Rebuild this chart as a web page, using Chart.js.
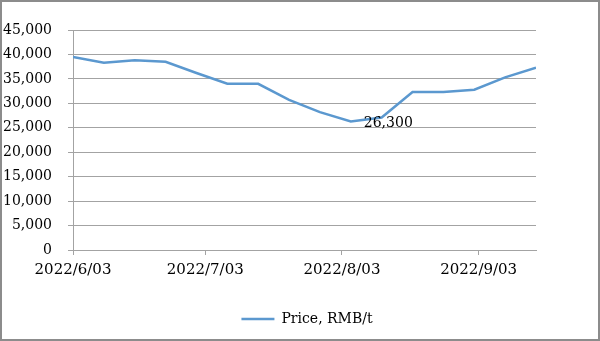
<!DOCTYPE html>
<html>
<head>
<meta charset="utf-8">
<script src="https://cdn.jsdelivr.net/npm/chart.js@4.4.0/dist/chart.umd.min.js"></script>
<style>
  html, body { margin: 0; padding: 0; background: #fff; }
  #wrap { width: 600px; height: 341px; position: relative; }
</style>
</head>
<body>
<div id="wrap"><canvas id="priceChart"></canvas></div>
<script>
// weekly observations
const dates = [
  "2022/6/03", "2022/6/10", "2022/6/17", "2022/6/24",
  "2022/7/01", "2022/7/08", "2022/7/15", "2022/7/22", "2022/7/29",
  "2022/8/05", "2022/8/12", "2022/8/19", "2022/8/26",
  "2022/9/02", "2022/9/09", "2022/9/16",
];
const prices = [
  39500, 38300, 38800, 38500,
  36200, 34000, 34000, 30700, 28200,
  26300, 27100, 32300, 32300,
  32800, 35300, 37300,
];
const seriesName = "Price, RMB/t";
const xTickDates = ["2022/6/03", "2022/7/03", "2022/8/03", "2022/9/03"];
const yTickLabels = ["0", "5,000", "10,000", "15,000", "20,000", "25,000", "30,000", "35,000", "40,000", "45,000"];
const labelIndex = 9; // min point gets a data label
const labelText = "26,300";

function dayOf(s) {
  const [y, m, d] = s.split("/").map(Number);
  return Date.UTC(y, m - 1, d) / 86400000;
}
const day0 = dayOf(dates[0]);
const points = dates.map((d, i) => ({ x: dayOf(d) - day0, y: prices[i] }));
const xTicks = xTickDates.map((d) => dayOf(d) - day0);

const lineColor = "#5b98cf";
const gridColor = "#a3a3a3";
const serif = "'DejaVu Serif', 'Liberation Serif', serif";

const pointLabel = {
  id: "pointLabel",
  afterDatasetsDraw(chart) {
    const pt = chart.getDatasetMeta(0).data[labelIndex];
    const ctx = chart.ctx;
    ctx.save();
    ctx.font = "14px " + serif;
    ctx.fillStyle = "#000";
    ctx.textAlign = "left";
    ctx.textBaseline = "middle";
    ctx.fillText(labelText, pt.x + 13, pt.y + 2);
    ctx.restore();
  },
};

// legend sits a bit right of the plot centre in the original
const legendShift = {
  id: "legendShift",
  beforeDraw(chart) {
    chart.legend.left += 39;
    chart.legend.right += 39;
  },
};

const frame = {
  id: "frame",
  afterDraw(chart) {
    const ctx = chart.ctx;
    ctx.save();
    ctx.strokeStyle = "#8c8c8c";
    ctx.lineWidth = 2;
    ctx.strokeRect(1, 1, chart.width - 2, chart.height - 2);
    ctx.restore();
  },
};

const ctx = document.getElementById("priceChart").getContext("2d");
new Chart(ctx, {
  type: "line",
  data: {
    datasets: [
      {
        label: seriesName,
        data: points,
        borderColor: lineColor,
        backgroundColor: lineColor,
        borderWidth: 2.5,
        pointRadius: 0,
        tension: 0,
      },
    ],
  },
  options: {
    responsive: true,
    maintainAspectRatio: false,
    animation: false,
    layout: {
      padding: { top: 30, right: 64, bottom: 5, left: 0 },
    },
    plugins: {
      legend: {
        position: "bottom",
        labels: {
          usePointStyle: true,
          pointStyle: "line",
          pointStyleWidth: 33,
          color: "#000",
          font: { family: serif, size: 14 },
          padding: 10,
        },
      },
      tooltip: { enabled: false },
    },
    scales: {
      x: {
        type: "linear",
        min: 0,
        max: points[points.length - 1].x,
        afterBuildTicks: (scale) => {
          scale.ticks = xTicks.map((v) => ({ value: v }));
        },
        afterFit: (scale) => {
          scale.height = 52;
        },
        ticks: {
          autoSkip: false,
          maxRotation: 0,
          padding: 6,
          color: "#000",
          font: { family: serif, size: 15 },
          callback: (value) => xTickDates[xTicks.indexOf(value)],
        },
        grid: {
          drawOnChartArea: false,
          tickLength: 5,
          color: gridColor,
        },
        border: { color: gridColor },
      },
      y: {
        min: 0,
        max: 45000,
        afterFit: (scale) => {
          scale.width = 73;
        },
        ticks: {
          stepSize: 5000,
          padding: 16,
          color: "#000",
          font: { family: serif, size: 14 },
          callback: (value) => yTickLabels[Math.round(value / 5000)],
        },
        grid: {
          color: gridColor,
          tickLength: 5,
        },
        border: { color: gridColor },
      },
    },
  },
  plugins: [pointLabel, legendShift, frame],
});
</script>
</body>
</html>
